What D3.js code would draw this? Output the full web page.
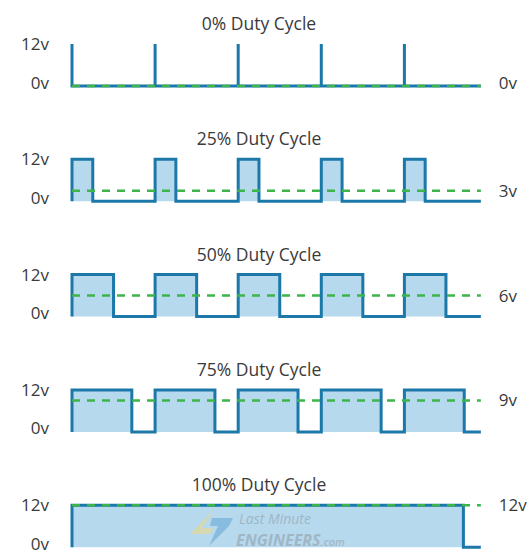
<!DOCTYPE html>
<html>
<head>
<meta charset="utf-8">
<script src="https://cdn.jsdelivr.net/npm/d3@7"></script>
<style>
  html, body { margin: 0; padding: 0; background: #ffffff; }
  svg { display: block; }
  text { font-family: "Open Sans", "Noto Sans", sans-serif; fill: #3a3a3a; }
</style>
</head>
<body>
<svg id="chart" width="532" height="559"></svg>
<script>
// ---- data ----
const titles = ["0% Duty Cycle", "25% Duty Cycle", "50% Duty Cycle", "75% Duty Cycle", "100% Duty Cycle"];
const dutyFractions = [0, 0.25, 0.5, 0.72, 1];      // on-time per period, as drawn
const averageVolts = [0, 3, 6, 9, 12];
const averageLabels = ["0v", "3v", "6v", "9v", "12v"];
const lastFall = [null, null, null, null, 4.71];     // 100% panel drops to 0v here (periods)
const voltTicks = [0, 12];
const periodCount = 5;
const timeEnd = 4.92;                                 // x extent in periods

// ---- layout ----
const left = 72, periodPx = 83.1;
const firstTop = 44, panelStep = 115.3, panelH = 42;

const svg = d3.select("#chart");
const x = d3.scaleLinear().domain([0, periodCount]).range([left, left + periodCount * periodPx]);

const blue = "#1b78a8", fillBlue = "#b6d9ee", green = "#3db54a";

function wavePoints(d, cutoff) {
  const pts = [];
  for (let k = 0; k < periodCount; k++) {
    if (k > timeEnd) break;
    if (!(d >= 1 && k > 0)) {
      pts.push([k, 0]);
      pts.push([k, 12]);
    }
    if (d >= 1) {
      if (cutoff != null && k + 1 > cutoff) { pts.push([cutoff, 12]); pts.push([cutoff, 0]); break; }
      continue;
    }
    const fall = k + d;
    pts.push([fall, 12]);
    pts.push([fall, 0]);
  }
  pts.push([timeEnd, 0]);
  return pts;
}

titles.forEach((title, i) => {
  const top = firstTop + i * panelStep;
  const bottom = top + panelH;
  const y = d3.scaleLinear().domain([0, 12]).range([bottom, top]);
  const g = svg.append("g");
  const pts = wavePoints(dutyFractions[i], lastFall[i]);

  g.append("path")
    .attr("d", d3.area().x(p => x(p[0])).y0(y(0)).y1(p => y(p[1]))(pts))
    .attr("fill", fillBlue);

  g.append("path")
    .attr("d", d3.line().x(p => x(p[0])).y(p => y(p[1]))(pts))
    .attr("fill", "none")
    .attr("stroke", blue)
    .attr("stroke-width", 3)
    .attr("stroke-linejoin", "miter");

  g.append("line")
    .attr("x1", x(0)).attr("x2", x(timeEnd))
    .attr("y1", y(averageVolts[i])).attr("y2", y(averageVolts[i]))
    .attr("stroke", green)
    .attr("stroke-width", 2.5)
    .attr("stroke-dasharray", "8,7");

  g.append("text")
    .attr("x", 259).attr("y", top - 14)
    .attr("text-anchor", "middle")
    .attr("font-size", 17.5)
    .text(title);

  const yl = g.append("g")
    .attr("transform", `translate(${left},0)`)
    .call(d3.axisLeft(y).tickValues(voltTicks).tickSize(0).tickPadding(23).tickFormat(v => v + "v"));
  yl.select(".domain").remove();
  yl.selectAll("text").attr("font-size", 17).attr("fill", "#3a3a3a")
    .attr("font-family", "'Open Sans', sans-serif")
    .attr("dy", v => v === 0 ? "0.12em" : "0.32em");

  const yr = g.append("g")
    .attr("transform", `translate(${x(timeEnd)},0)`)
    .call(d3.axisRight(y).tickValues([averageVolts[i]]).tickSize(0).tickPadding(18).tickFormat(() => averageLabels[i]));
  yr.select(".domain").remove();
  yr.selectAll("text").attr("font-size", 17).attr("fill", "#3a3a3a")
    .attr("font-family", "'Open Sans', sans-serif")
    .attr("dy", i === 0 ? "0.15em" : "0.32em");
});

// watermark
const wm = svg.append("g").attr("opacity", 0.85);
wm.append("path").attr("d", "M214,510 L190,534 L210,534 L213,528 L202,528 Z").attr("fill", "#dcd8a6");
wm.append("path").attr("d", "M212,518 L233,518 L229,526 L209,546 L218,526 L210,526 Z").attr("fill", "#7fb7dc");
wm.append("text").attr("x", 239).attr("y", 524).attr("font-size", 14).attr("font-style", "italic")
  .style("fill", "#9db1bf").text("Last Minute");
wm.append("text").attr("x", 236).attr("y", 546).attr("font-size", 16).attr("font-style", "italic").attr("font-weight", 700)
  .style("fill", "#9db1bf").text("ENGINEERS")
  .append("tspan").attr("font-size", 11).attr("font-weight", 600).text(".com");
</script>
</body>
</html>
